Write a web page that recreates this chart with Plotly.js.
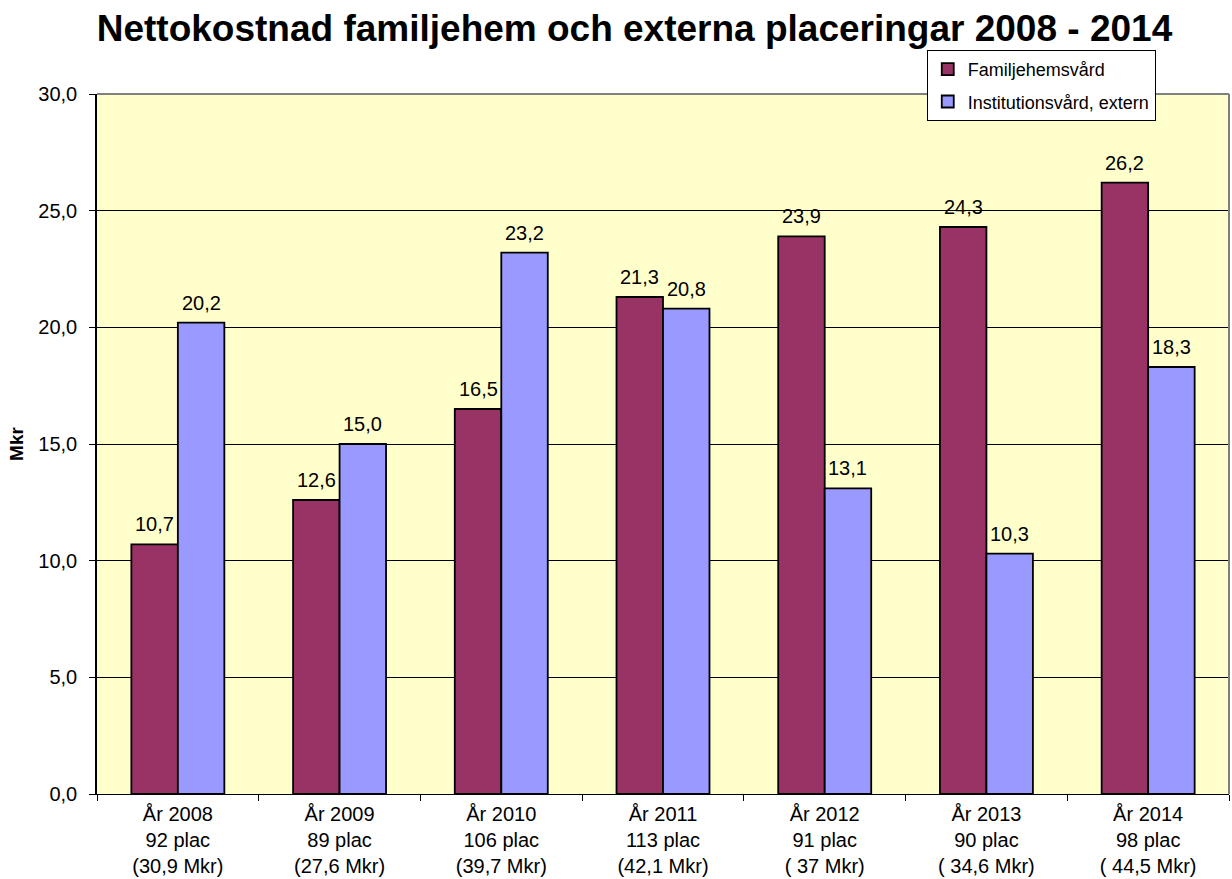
<!DOCTYPE html>
<html><head><meta charset="utf-8">
<script src="https://cdn.plot.ly/plotly-3.0.1.min.js"></script>
<style>body{margin:0;background:#fff}#c{width:1232px;height:879px}</style>
</head><body><div id="c"></div>
<script>
const categories = ["År 2008<br>92 plac<br>(30,9 Mkr)","År 2009<br>89 plac<br>(27,6 Mkr)","År 2010<br>106 plac<br>(39,7 Mkr)","År 2011<br>113 plac<br>(42,1 Mkr)","År 2012<br>91 plac<br>( 37 Mkr)","År 2013<br>90 plac<br>( 34,6 Mkr)","År 2014<br>98 plac<br>( 44,5 Mkr)"];
const familjehem = [10.7, 12.6, 16.5, 21.3, 23.9, 24.3, 26.2];
const institution = [20.2, 15.0, 23.2, 20.8, 13.1, 10.3, 18.3];
const yTicks = [0,5,10,15,20,25,30];

const font = 'Liberation Sans, Arial, sans-serif';
const bargap = 0.425;
const series = [
  {name:'Familjehemsvård', y:familjehem, color:'#993366'},
  {name:'Institutionsvård, extern', y:institution, color:'#9999FF'}
];
const data = series.map((s,k) => ({
  type:'bar', name:s.name, x:categories, y:s.y, legendgroup:'g'+k,
  marker:{color:s.color, line:{color:'#000', width:1.8}}
}));
const half = (1-bargap)/4;
const annotations = [];
series.forEach((s,k) => s.y.forEach((v,i) => annotations.push({
  xref:'x', yref:'y', x:i + (k===0 ? -half : half), y:v,
  text:v.toFixed(1).replace('.', ','), showarrow:false,
  yanchor:'bottom', yshift:7, font:{family:font, size:20, color:'#000'}
})));
const layout = {
  width:1232, height:879, separators:',.',
  margin:{l:97, r:3, t:94, b:85},
  paper_bgcolor:'#fff', plot_bgcolor:'#FFFFCC',
  font:{family:font, size:20, color:'#000'},
  title:{text:'<b>Nettokostnad familjehem och externa placeringar 2008 - 2014</b>', font:{family:font, size:37, color:'#000'}, x:0.515, xanchor:'center', y:0.968, yanchor:'middle'},
  bargap:bargap, bargroupgap:0,
  showlegend:true,
  legend:{x:0.733, xanchor:'left', y:1.063, yanchor:'top', bgcolor:'#fff', bordercolor:'#000', borderwidth:1, font:{family:font, size:18}, tracegroupgap:6, itemwidth:30},
  annotations: annotations,
  xaxis:{showline:true, linecolor:'#000', linewidth:1, ticks:'outside', tickson:'boundaries', ticklen:6, tickcolor:'#000', showgrid:false, tickfont:{size:20}, ticklabelstandoff:2},
  yaxis:{range:[0,30], tickvals:yTicks, tickformat:'.1f', showline:true, linecolor:'#000', linewidth:1.5, ticks:'outside', ticklen:6, tickcolor:'#000', gridcolor:'#000', gridwidth:1, zeroline:false, tickfont:{size:20}, ticklabelstandoff:8,
    title:{text:'<b>Mkr</b>', font:{size:19}, standoff:10}},
  shapes:[
    {type:'line', xref:'paper', yref:'paper', x0:0, x1:1, y0:1, y1:1, line:{color:'#808080', width:2}},
    {type:'line', xref:'paper', yref:'paper', x0:1, x1:1, y0:0, y1:1, line:{color:'#808080', width:2}}
  ]
};
Plotly.newPlot('c', data, layout, {displayModeBar:false});
</script></body></html>
